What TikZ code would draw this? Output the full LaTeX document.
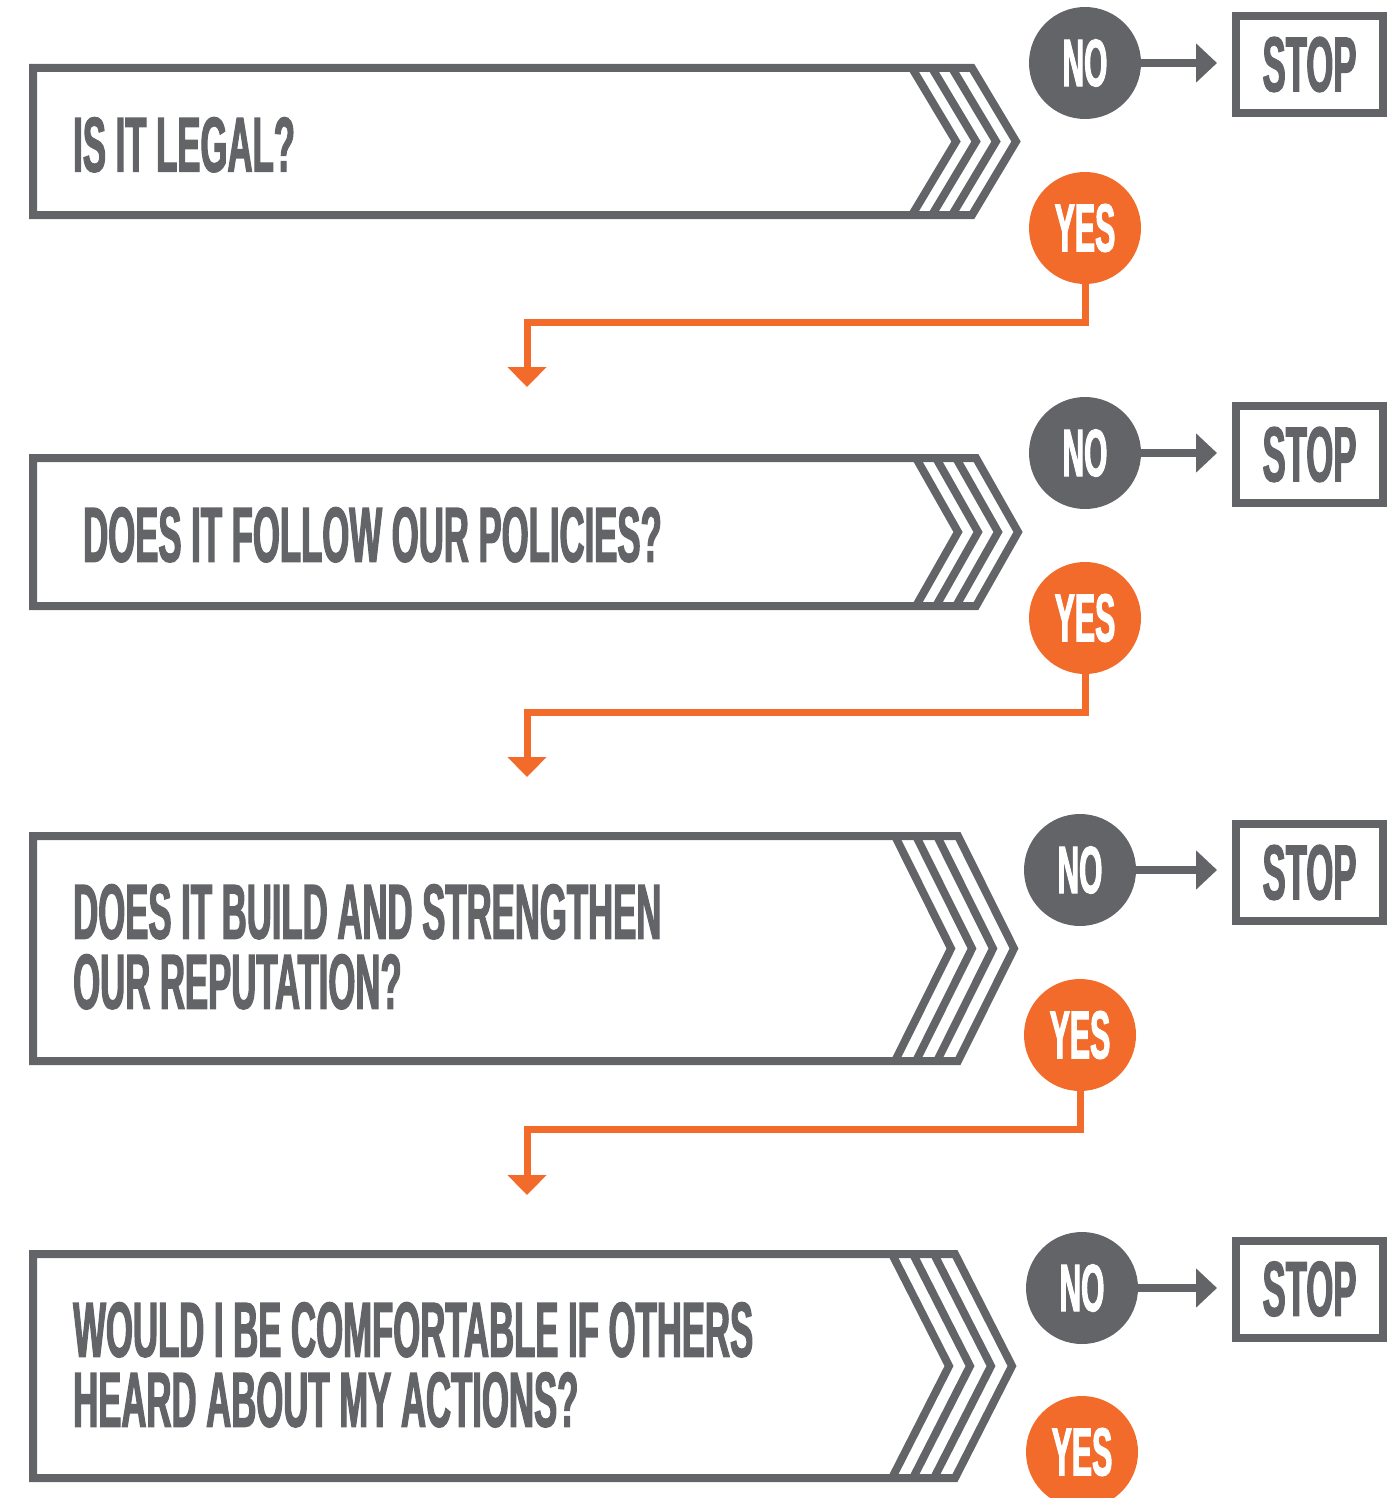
\documentclass[tikz,border=0pt]{standalone}
\usepackage{fontspec}
\usepackage{xcolor}
\usetikzlibrary{arrows.meta}
\newfontfamily\signfont[FakeStretch=0.445,FakeBold=1.5]{Liberation Sans}
\definecolor{signgray}{HTML}{636468}
\definecolor{signorange}{HTML}{F26B2A}

\begin{document}
\begin{tikzpicture}[
    x=1pt, y=-1pt,
    frame/.style={draw=signgray,line width=8pt,miter limit=10},
    stripe/.style={draw=signgray,line width=8pt},
    question/.style={anchor=north west,inner sep=0pt,align=left,text=signgray,font=\signfont\bfseries\fontsize{78}{70}\selectfont},
    nobubble/.style={circle,fill=signgray,minimum size=112pt,inner sep=0pt,text=white,font=\signfont\bfseries\fontsize{67}{67}\selectfont},
    yesbubble/.style={nobubble,fill=signorange,font=\signfont\bfseries\fontsize{68}{68}\selectfont},
    stopbox/.style={rectangle,draw=signgray,line width=8pt,minimum width=147pt,minimum height=97pt,inner sep=0pt,text=signgray,font=\signfont\bfseries\fontsize{78}{78}\selectfont},
    noarrow/.style={draw=signgray,line width=8pt,shorten >=15pt,-{Triangle[length=21pt,width=38pt]}},
    yesarrow/.style={draw=signorange,line width=7pt,-{Triangle[length=20pt,width=38pt]}}
]
\useasboundingbox (0,0) rectangle (1396,1498);

% Question frames with chevron ends
\foreach \ya/\yb/\xo/\xa/\d in {68/215/972/1016/20, 458/606/976/1018/20, 836/1061/958/1014/21, 1254/1478/955/1012/21}{
    \draw[frame] (33,\ya) -- (\xo,\ya) -- (\xa,{(\ya+\yb)/2}) -- (\xo,\yb) -- (33,\yb) -- cycle;
    \foreach \k in {1,2,3}
        \draw[stripe] ({\xo-\k*\d},\ya) -- ({\xa-\k*\d},{(\ya+\yb)/2}) -- ({\xo-\k*\d},\yb);
}

% Questions
\node[question] (q1) at (73,117)  {IS IT LEGAL?};
\node[question] (q2) at (83,507)  {DOES IT FOLLOW OUR POLICIES?};
\node[question] (q3) at (73,884)  {DOES IT BUILD AND STRENGTHEN\\OUR REPUTATION?};
\node[question] (q4) at (73,1302) {WOULD I BE COMFORTABLE IF OTHERS\\HEARD ABOUT MY ACTIONS?};

% Answers
\node[nobubble]  (no1)  at (1085,63)   {NO};
\node[yesbubble] (yes1) at (1085,228)  {YES};
\node[nobubble]  (no2)  at (1085,453)  {NO};
\node[yesbubble] (yes2) at (1085,618)  {YES};
\node[nobubble]  (no3)  at (1080,870)  {NO};
\node[yesbubble] (yes3) at (1080,1035) {YES};
\node[nobubble]  (no4)  at (1082,1288) {NO};
\node[yesbubble] (yes4) at (1082,1452) {YES};

\node[stopbox] (stop1) at (1309.5,64.5)  {STOP};
\node[stopbox] (stop2) at (1309.5,454.5) {STOP};
\node[stopbox] (stop3) at (1309.5,872.5) {STOP};
\node[stopbox] (stop4) at (1309.5,1289)  {STOP};

% No -> stop
\draw[noarrow] (no1.east) -- (no1.east -| stop1.west);
\draw[noarrow] (no2.east) -- (no2.east -| stop2.west);
\draw[noarrow] (no3.east) -- (no3.east -| stop3.west);
\draw[noarrow] (no4.east) -- (no4.east -| stop4.west);

% Yes -> next question
\coordinate (turn1) at (527,322);
\coordinate (in2)   at (527,387);
\coordinate (turn2) at (527,712);
\coordinate (in3)   at (527,777);
\coordinate (turn3) at (527,1129);
\coordinate (in4)   at (527,1195);
\draw[yesarrow] (yes1.south) |- (turn1) -- (in2);
\draw[yesarrow] (yes2.south) |- (turn2) -- (in3);
\draw[yesarrow] (yes3.south) |- (turn3) -- (in4);

\end{tikzpicture}
\end{document}
